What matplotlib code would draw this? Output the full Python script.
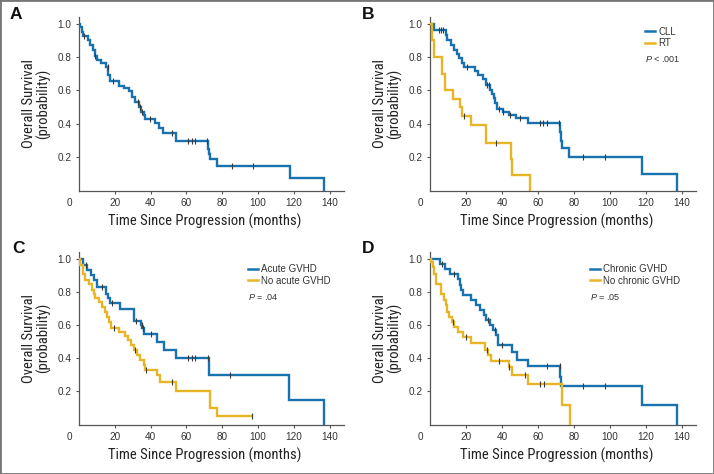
import matplotlib
matplotlib.use('Agg')
import matplotlib.pyplot as plt
import matplotlib.transforms as mtransforms
from matplotlib.patches import Rectangle
from matplotlib.lines import Line2D
import numpy as np

plt.rcParams['font.family'] = ['Liberation Sans', 'DejaVu Sans']
plt.rcParams['mathtext.fontset'] = 'custom'
plt.rcParams['mathtext.it'] = 'Liberation Sans:italic'
plt.rcParams['mathtext.rm'] = 'Liberation Sans'

BLUE = '#1872b0'
YELLOW = '#e8b526'
TICK = '#3a3a3a'
LABEL_FONT = ['Roboto Condensed', 'Liberation Sans']

# ---- data: event times (months) and survival after each event ----
# A: all patients
a_t = [0.6, 1.5, 2.5, 5.1, 6.4, 7.7, 8.8, 10.1, 12.5, 14.8, 16.2, 17.5, 22.2, 25.0, 27.7,
       29.5, 31.1, 33.3, 34.8, 36.1, 37.0, 42.6, 44.4, 46.7, 54.3, 72.0, 72.8, 73.4, 77.2,
       117.7, 136.8]
a_s = [0.98, 0.95, 0.924, 0.904, 0.874, 0.844, 0.804, 0.784, 0.764, 0.738, 0.694, 0.654,
       0.628, 0.614, 0.598, 0.564, 0.53, 0.504, 0.474, 0.454, 0.43, 0.404, 0.374, 0.344,
       0.297, 0.25, 0.22, 0.187, 0.145, 0.075, 0.0]
a_cens = [3, 9, 16, 19, 33, 34, 35, 39.5, 51.7, 61, 62.9, 64.8, 71.5, 85.2, 97.3]

# B: CLL vs RT
cll_t = [1.9, 8.7, 9.5, 11.6, 13.4, 14.9, 16.2, 17.5, 18.6, 24.6, 26.8, 29.2, 31.0, 33.4,
         34.4, 35.3, 36.2, 37.1, 40.3, 44.0, 47.7, 54.6, 72.2, 72.7, 73.2, 77.4, 117.8, 137.0]
cll_s = [0.965, 0.935, 0.905, 0.87, 0.845, 0.818, 0.794, 0.764, 0.738, 0.718, 0.694, 0.668,
         0.634, 0.604, 0.578, 0.554, 0.524, 0.49, 0.474, 0.454, 0.434, 0.404, 0.35, 0.30,
         0.254, 0.20, 0.10, 0.0]
cll_cens = [5, 6, 7, 20.5, 31.5, 32.5, 38.5, 40.5, 44.5, 50, 61, 62.9, 64.7, 71.6, 85.2, 97.3]
rt_t = [1.2, 2.2, 6.3, 8.2, 12.5, 16.6, 17.4, 22.7, 31.0, 45.0, 45.5, 55.2]
rt_s = [0.90, 0.80, 0.70, 0.60, 0.55, 0.50, 0.45, 0.395, 0.284, 0.19, 0.094, 0.0]
rt_cens = [18.8, 36.5]

# C: acute GVHD vs none
agvhd_t = [2.1, 4.5, 6.9, 8.2, 10.0, 15.1, 16.2, 17.5, 23.0, 30.5, 34.4, 35.4, 36.2, 43.8,
           47.4, 54.0, 72.4, 117.3, 136.6]
agvhd_s = [0.962, 0.932, 0.902, 0.872, 0.831, 0.79, 0.76, 0.73, 0.695, 0.625, 0.60, 0.58,
           0.545, 0.50, 0.45, 0.40, 0.30, 0.149, 0.0]
agvhd_cens = [4, 13, 18.5, 32, 35, 35.6, 40, 61, 63, 65, 72, 84.5]
noagvhd_t = [0.8, 2.1, 3.6, 5.5, 7.0, 8.3, 9.2, 11.1, 12.6, 14.4, 15.7, 16.6, 17.6, 22.2,
             25.6, 27.4, 29.3, 30.6, 32.5, 34.3, 36.2, 37.1, 43.6, 45.5, 54.2, 73.0, 77.1, 96.8]
noagvhd_s = [0.96, 0.91, 0.87, 0.85, 0.81, 0.79, 0.76, 0.74, 0.71, 0.68, 0.65, 0.62, 0.584,
             0.56, 0.535, 0.51, 0.48, 0.45, 0.42, 0.39, 0.36, 0.33, 0.30, 0.26, 0.205, 0.10,
             0.05, 0.05]
noagvhd_cens = [19.5, 31.5, 37.5, 52, 96.8]

# D: chronic GVHD vs none
cgvhd_t = [5.2, 8.4, 10.8, 15.4, 16.4, 17.3, 18.2, 22.5, 25.7, 27.5, 30.0, 30.9, 33.0, 35.0,
           36.3, 37.4, 45.2, 48.0, 54.5, 72.4, 72.9, 117.8, 137.0]
cgvhd_s = [0.97, 0.94, 0.91, 0.88, 0.84, 0.81, 0.78, 0.75, 0.72, 0.69, 0.66, 0.63, 0.60,
           0.57, 0.54, 0.48, 0.44, 0.39, 0.352, 0.29, 0.234, 0.117, 0.0]
cgvhd_cens = [6.5, 13, 32, 36, 40, 65, 72, 85, 97]
nocgvhd_t = [0.6, 1.3, 2.2, 3.1, 5.9, 7.8, 8.7, 9.2, 10.6, 11.9, 13.4, 15.6, 18.0, 22.9,
             30.7, 32.2, 34.0, 43.7, 45.2, 54.5, 73.3, 77.9]
nocgvhd_s = [0.98, 0.95, 0.91, 0.85, 0.79, 0.75, 0.72, 0.68, 0.65, 0.62, 0.59, 0.56, 0.53,
             0.49, 0.45, 0.42, 0.385, 0.35, 0.30, 0.244, 0.118, 0.0]
nocgvhd_cens = [12.5, 20, 31.5, 38, 44, 52.7, 61, 63]

xticks = [0, 20, 40, 60, 80, 100, 120, 140]
yticks = [0.2, 0.4, 0.6, 0.8, 1.0]
yticklabels = ['0.2', '0.4', '0.6', '0.8', '1.0']


def km_at(times, surv, t):
    times = np.asarray(times)
    surv = np.asarray(surv)
    idx = np.searchsorted(times, t, side='right') - 1
    return np.where(idx >= 0, surv[np.clip(idx, 0, None)], 1.0)


def draw_km(ax, times, surv, cens, color):
    x = np.r_[0, times]
    y = np.r_[1.0, surv]
    ax.step(x, y, where='post', color=color, lw=1.7, solid_joinstyle='miter', zorder=3)
    ax.plot(cens, km_at(times, surv, np.asarray(cens)), linestyle='none', marker='|',
            ms=4.5, mew=0.8, color=TICK, zorder=4)


def style_axes(fig, ax):
    ax.set_xlim(0, 148)
    ax.set_ylim(0, 1.04)
    for side in ['top', 'right']:
        ax.spines[side].set_visible(False)
    for side in ['left', 'bottom']:
        ax.spines[side].set_color('#555555')
        ax.spines[side].set_linewidth(0.9)
    ax.set_xticks(xticks)
    ax.set_yticks(yticks)
    ax.set_yticklabels(yticklabels)
    ax.tick_params(axis='both', direction='out', length=2.5, width=0.8, color='#555555',
                   labelsize=7.2, labelcolor='#333333')
    ax.tick_params(axis='x', pad=3)
    ax.tick_params(axis='y', pad=3)
    first = ax.xaxis.get_major_ticks()[0]
    first.tick1line.set_visible(False)
    offset = mtransforms.ScaledTranslation(-10 / 100, 0, fig.dpi_scale_trans)
    first.label1.set_transform(first.label1.get_transform() + offset)
    ax.set_xlabel('Time Since Progression (months)', fontsize=10.5, color='#222222',
                  family=LABEL_FONT)
    ax.set_ylabel('Overall Survival\n(probability)', fontsize=10.5, color='#222222',
                  family=LABEL_FONT, linespacing=1.0)
    ax.xaxis.set_label_coords(0.474, -0.135)
    ax.yaxis.set_label_coords(-0.105, 0.5)


def add_legend(ax, labels, ptext, x, y, py):
    handles = [Line2D([], [], color=BLUE, lw=1.8), Line2D([], [], color=YELLOW, lw=1.8)]
    ax.legend(handles, labels, loc='upper left', bbox_to_anchor=(x, y), frameon=False,
              fontsize=7, handlelength=1.0, handletextpad=0.35, labelspacing=0.15,
              borderaxespad=0, borderpad=0, labelcolor='#333333')
    ax.text(x, py, ptext, transform=ax.transAxes, fontsize=6.5, color='#333333',
            va='center', ha='left')


W, H = 714, 474
fig = plt.figure(figsize=(W / 100, H / 100), dpi=100)


def px_axes(left, top, right, bottom):
    return fig.add_axes([left / W, 1 - bottom / H, (right - left) / W, (bottom - top) / H])


axA = px_axes(79, 17, 344, 190.7)
axB = px_axes(430.3, 17, 696.3, 190.7)
axC = px_axes(79, 252, 344, 424.7)
axD = px_axes(430.3, 252, 696.3, 424.7)

draw_km(axA, a_t, a_s, a_cens, BLUE)

draw_km(axB, cll_t, cll_s, cll_cens, BLUE)
draw_km(axB, rt_t, rt_s, rt_cens, YELLOW)

draw_km(axC, agvhd_t, agvhd_s, agvhd_cens, BLUE)
draw_km(axC, noagvhd_t, noagvhd_s, noagvhd_cens, YELLOW)

draw_km(axD, cgvhd_t, cgvhd_s, cgvhd_cens, BLUE)
draw_km(axD, nocgvhd_t, nocgvhd_s, nocgvhd_cens, YELLOW)

for ax in [axA, axB, axC, axD]:
    style_axes(fig, ax)

add_legend(axB, ['CLL', 'RT'], '$P$ < .001', 0.808, 0.945, 0.758)
add_legend(axC, ['Acute GVHD', 'No acute GVHD'], '$P$ = .04', 0.638, 0.93, 0.739)
add_legend(axD, ['Chronic GVHD', 'No chronic GVHD'], '$P$ = .05', 0.600, 0.93, 0.739)

for letter, (lx, ly) in zip('ABCD', [(10, 7), (362, 7), (12, 241), (362, 241)]):
    fig.text(lx / W, 1 - ly / H, letter, fontsize=12.5, fontweight='bold', color='#111111',
             ha='left', va='top')

fig.patches.append(Rectangle((0, 0), 1, 1, transform=fig.transFigure, fill=False,
                             edgecolor='#777777', lw=2.0))

fig.savefig('out.png', dpi=100)
